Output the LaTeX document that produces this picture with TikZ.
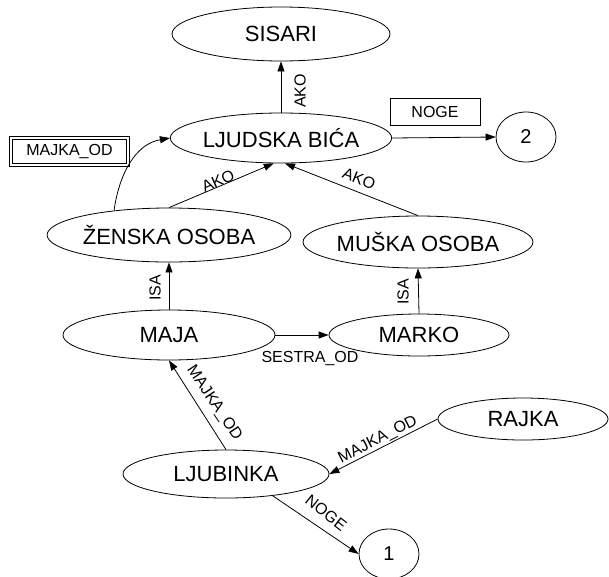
\documentclass[tikz,border=0pt]{standalone}
\usepackage{fontspec}
\setmainfont{Liberation Sans}
\usetikzlibrary{shapes.geometric,arrows.meta}

\begin{document}
\begin{tikzpicture}[x=1pt,y=-1pt,line width=0.8pt,
  concept/.style={ellipse,draw,inner sep=0pt,font=\fontsize{22}{26}\selectfont},
  numnode/.style={ellipse,draw,inner sep=0pt,minimum width=60,minimum height=50,font=\fontsize{20}{24}\selectfont},
  lbl/.style={inner sep=0pt,font=\fontsize{16}{19}\selectfont},
  rel/.style={-{Triangle[length=10pt,width=7pt]}}]
\useasboundingbox (0,0) rectangle (609,576);
% concepts
\node(sisari) at (281,34)[concept,minimum width=218,minimum height=54] {SISARI};
\node(ljudska) at (281,138)[concept,minimum width=218,minimum height=50] {LJUDSKA BIĆA};
\node(zenska) at (169,235)[concept,minimum width=228,minimum height=54] {ŽENSKA OSOBA};
\node(muska) at (418,242)[concept,minimum width=216,minimum height=52] {MUŠKA OSOBA};
\node(maja) at (169,335)[concept,minimum width=212,minimum height=50] {MAJA};
\node(marko) at (419,335)[concept,minimum width=180,minimum height=42] {MARKO};
\node(ljubinka) at (226,474)[concept,minimum width=206,minimum height=48] {LJUBINKA};
\node(rajka) at (523,419)[concept,minimum width=170,minimum height=42] {RAJKA};
\node(two) at (526,137)[numnode] {2};
\node(one) at (389,554)[numnode] {1};
% boxes
\node(nogebox) at (435,112)[lbl,draw,minimum width=90,minimum height=27] {NOGE};
\node(majkabox) at (69.5,151.5)[lbl,draw,double,double distance=2pt,line width=0.7pt,minimum width=117,minimum height=27] {MAJKA\_OD};
% relations
\draw[rel] (ljudska.north) -- (sisari.south);
\draw[rel] (ljudska.east) -- (two.west);
\draw[rel] (zenska.156) to[out=82,in=190] (ljudska.west);
\draw[rel] (zenska.north) -- (ljudska.254);
\draw[rel] (muska.north) -- (ljudska.279);
\draw[rel] (maja.north) -- (zenska.south);
\draw[rel] (marko.north) -- (muska.south);
\draw[rel] (maja.east) -- (marko.west);
\draw[rel] (ljubinka.north) -- (maja.south);
\draw[rel] (rajka.west) -- (ljubinka.east);
\draw[rel] (ljubinka.-25) -- (one.west);
% labels
\node(ako1) at (300,91)[lbl,rotate=90] {AKO};
\node(ako2) at (218,181)[lbl,rotate=24] {AKO};
\node(ako3) at (359,179)[lbl,rotate=-22] {AKO};
\node(isa1) at (155,288)[lbl,rotate=90] {ISA};
\node(isa2) at (403,292)[lbl,rotate=90] {ISA};
\node(sestra) at (310,358)[lbl] {SESTRA\_OD};
\node(majka1) at (214,403)[lbl,rotate=-56] {MAJKA\_OD};
\node(majka2) at (378,440)[lbl,rotate=27] {MAJKA\_OD};
\node(noge) at (326,513)[lbl,rotate=-38] {NOGE};
\end{tikzpicture}
\end{document}
